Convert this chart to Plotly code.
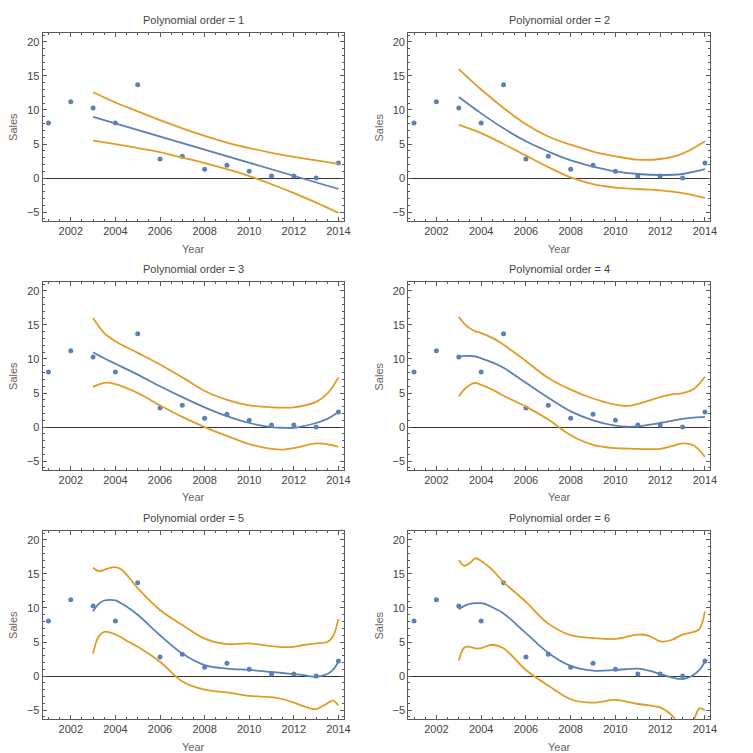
import plotly.graph_objects as go

# ---- data ----
years = [2001, 2002, 2003, 2004, 2005, 2006, 2007, 2008, 2009, 2010, 2011, 2012, 2013, 2014]
sales = [8.1, 11.2, 10.3, 8.1, 13.7, 2.8, 3.2, 1.3, 1.9, 1.0, 0.3, 0.3, 0.0, 2.2]

grid1 = [2003, 2004, 2005, 2006, 2007, 2008, 2009, 2010, 2011, 2012, 2013, 2014]
fit1 = [9.0, 8.04, 7.07, 6.11, 5.15, 4.18, 3.22, 2.25, 1.29, 0.33, -0.64, -1.6]
upper1 = [12.6, 11.1, 9.8, 8.5, 7.3, 6.2, 5.2, 4.4, 3.7, 3.1, 2.6, 2.1]
lower1 = [5.5, 5.0, 4.4, 3.8, 3.0, 2.2, 1.3, 0.3, -0.9, -2.2, -3.6, -5.1]

grid2 = [2003, 2004, 2005, 2006, 2007, 2008, 2009, 2010, 2011, 2012, 2013, 2014]
fit2 = [11.9, 9.5, 7.3, 5.4, 3.9, 2.6, 1.7, 1.0, 0.6, 0.45, 0.6, 1.3]
upper2 = [16.0, 13.0, 10.3, 7.9, 6.1, 4.9, 3.9, 3.2, 2.7, 2.8, 3.6, 5.4]
lower2 = [7.8, 6.6, 5.0, 3.3, 1.6, 0.1, -0.9, -1.4, -1.6, -1.8, -2.2, -2.9]

grid3 = [2003, 2003.5, 2004, 2005, 2006, 2007, 2008, 2009, 2010, 2011, 2011.5, 2012, 2013, 2013.5, 2014]
fit3 = [11.0, 10.1, 9.3, 7.7, 6.0, 4.4, 2.9, 1.6, 0.6, 0.0, -0.1, -0.1, 0.6, 1.2, 2.2]
upper3 = [16.0, 13.8, 12.6, 10.9, 9.2, 7.3, 5.3, 4.0, 3.2, 2.9, 2.85, 2.9, 3.7, 4.9, 7.3]
lower3 = [5.9, 6.5, 6.3, 5.0, 3.2, 1.5, 0.0, -1.3, -2.5, -3.2, -3.3, -3.1, -2.4, -2.5, -2.9]

grid4 = [2003, 2003.3, 2003.7, 2004, 2004.5, 2005, 2006, 2007, 2008, 2009, 2010, 2010.5, 2011, 2012, 2012.5, 2013, 2013.5, 2014]
fit4 = [10.3, 10.45, 10.4, 10.1, 9.5, 8.7, 6.5, 4.3, 2.3, 1.0, 0.2, 0.05, 0.1, 0.6, 0.9, 1.2, 1.4, 1.5]
upper4 = [16.2, 15.0, 14.1, 13.8, 13.1, 12.1, 9.7, 7.2, 5.5, 4.2, 3.3, 3.1, 3.4, 4.4, 4.8, 5.0, 5.6, 7.4]
lower4 = [4.5, 5.7, 6.5, 6.2, 5.5, 4.6, 3.0, 1.1, -1.2, -2.6, -3.1, -3.15, -3.2, -3.2, -2.8, -2.4, -2.7, -4.4]

grid5 = [2003, 2003.25, 2003.5, 2003.75, 2004, 2004.25, 2004.5, 2005, 2006, 2007, 2008, 2009, 2010, 2011, 2011.5, 2012, 2012.5, 2013, 2013.5, 2013.75, 2014]
fit5 = [9.5, 10.6, 11.1, 11.2, 11.1, 10.7, 10.2, 9.0, 6.0, 3.3, 1.6, 1.1, 0.9, 0.6, 0.45, 0.3, 0.1, -0.1, 0.3, 0.9, 2.1]
upper5 = [15.9, 15.4, 15.6, 15.9, 16.0, 15.7, 14.9, 12.9, 9.7, 7.5, 5.5, 4.7, 4.8, 4.4, 4.25, 4.3, 4.6, 4.8, 5.0, 5.8, 8.4]
lower5 = [3.3, 5.8, 6.5, 6.4, 6.1, 5.7, 5.2, 4.3, 2.1, -0.8, -2.0, -2.4, -2.9, -3.1, -3.4, -3.9, -4.5, -4.85, -4.0, -3.6, -4.3]

grid6 = [2003, 2003.25, 2003.5, 2003.75, 2004, 2004.25, 2004.5, 2005, 2006, 2007, 2008, 2009, 2010, 2011, 2011.5, 2012, 2012.5, 2013, 2013.5, 2013.75, 2014]
fit6 = [9.8, 10.3, 10.6, 10.7, 10.7, 10.5, 10.1, 9.2, 6.3, 3.4, 1.5, 0.8, 0.9, 1.1, 0.8, 0.3, -0.2, -0.45, 0.2, 0.9, 2.1]
upper6 = [17.0, 16.2, 16.6, 17.3, 16.9, 16.3, 15.6, 13.8, 10.9, 7.7, 6.0, 5.6, 5.45, 6.1, 5.9, 5.1, 5.3, 6.1, 6.5, 6.9, 9.5]
lower6 = [2.3, 4.2, 4.3, 4.05, 4.1, 4.4, 4.6, 4.1, 0.9, -1.4, -3.4, -3.9, -3.5, -4.1, -4.3, -4.6, -5.7, -7.6, -6.3, -4.75, -5.0]

orders = [1, 2, 3, 4, 5, 6]
grids = [grid1, grid2, grid3, grid4, grid5, grid6]
fits = [fit1, fit2, fit3, fit4, fit5, fit6]
uppers = [upper1, upper2, upper3, upper4, upper5, upper6]
lowers = [lower1, lower2, lower3, lower4, lower5, lower6]

x_ticks = [2002, 2004, 2006, 2008, 2010, 2012, 2014]
y_ticks = [-5, 0, 5, 10, 15, 20]
title_fmt = "Polynomial order = {}"

# ---- style ----
OFF = 8            # default page margin of the browser body
W = H = 753 - OFF  # figure fits the visible window
BLUE = "#5E81B5"
ORANGE = "#E19C24"
FRAME = "#5a5a5a"
FONT = "Liberation Sans, Arial, sans-serif"

# page-pixel frames of panels (left, right) / (top, bottom)
cols = [(43, 347), (412, 717)]
rows = [(33, 221), (282, 470), (531, 719)]


def px(v):
    return (v - OFF) / W


def py(v):
    return 1 - (v - OFF) / H


fig = go.Figure()
annotations = []
layout = {}

for i, order in enumerate(orders):
    r, c = divmod(i, 2)
    l, rr = cols[c]
    t, b = rows[r]
    xa = "x" if i == 0 else f"x{i+1}"
    ya = "y" if i == 0 else f"y{i+1}"
    xkey = "xaxis" if i == 0 else f"xaxis{i+1}"
    ykey = "yaxis" if i == 0 else f"yaxis{i+1}"

    line_kw = dict(shape="spline", smoothing=1.0)
    fit_kw = dict(shape="linear") if order == 1 else line_kw
    fig.add_trace(go.Scatter(x=years, y=sales, mode="markers", xaxis=xa, yaxis=ya,
                             marker=dict(color=BLUE, size=5), showlegend=False))
    fig.add_trace(go.Scatter(x=grids[i], y=uppers[i], mode="lines", xaxis=xa, yaxis=ya,
                             line=dict(color=ORANGE, width=1.8, **line_kw), showlegend=False))
    fig.add_trace(go.Scatter(x=grids[i], y=lowers[i], mode="lines", xaxis=xa, yaxis=ya,
                             line=dict(color=ORANGE, width=1.8, **line_kw), showlegend=False))
    fig.add_trace(go.Scatter(x=grids[i], y=fits[i], mode="lines", xaxis=xa, yaxis=ya,
                             line=dict(color=BLUE, width=1.8, **fit_kw), showlegend=False))

    layout[xkey] = dict(
        domain=[px(l), px(rr)], anchor=ya, range=[2000.74, 2014.24],
        tickvals=x_ticks, ticktext=[str(v) for v in x_ticks],
        ticks="inside", ticklen=4, tickwidth=1, tickcolor=FRAME,
        minor=dict(dtick=0.5, tick0=2000, ticks="inside", ticklen=2, tickcolor=FRAME),
        showline=True, linecolor=FRAME, linewidth=1, mirror="allticks",
        showgrid=False, zeroline=False,
        tickfont=dict(family=FONT, size=11, color="#444"),
    )
    layout[ykey] = dict(
        domain=[py(b), py(t)], anchor=xa, range=[-6.3, 21.3],
        tickvals=y_ticks, ticktext=[("\u22125" if v < 0 else str(v)) for v in y_ticks],
        ticks="inside", ticklen=4, tickwidth=1, tickcolor=FRAME,
        minor=dict(dtick=1, tick0=0, ticks="inside", ticklen=2, tickcolor=FRAME),
        showline=True, linecolor=FRAME, linewidth=1, mirror="allticks",
        showgrid=False, zeroline=True, zerolinecolor="#333", zerolinewidth=1,
        tickfont=dict(family=FONT, size=11, color="#444"),
    )

    cx = px((l + rr) / 2)
    annotations.append(dict(text=title_fmt.format(order), x=cx, y=py(t - 13), xref="paper", yref="paper",
                            showarrow=False, xanchor="center", yanchor="middle",
                            font=dict(family=FONT, size=11, color="#444")))
    annotations.append(dict(text="Year", x=cx, y=py(b + 27.5), xref="paper", yref="paper",
                            showarrow=False, xanchor="center", yanchor="middle",
                            font=dict(family=FONT, size=11, color="#6a6262")))
    sx = 13 if c == 0 else 383
    annotations.append(dict(text="Sales", x=px(sx), y=py((t + b) / 2), xref="paper", yref="paper",
                            showarrow=False, xanchor="center", yanchor="middle", textangle=-90,
                            font=dict(family=FONT, size=11, color="#6a6262")))

fig.update_layout(width=W, height=H, margin=dict(l=0, r=0, t=0, b=0),
                  paper_bgcolor="white", plot_bgcolor="white",
                  annotations=annotations, **layout)

fig.write_html("out.html")
